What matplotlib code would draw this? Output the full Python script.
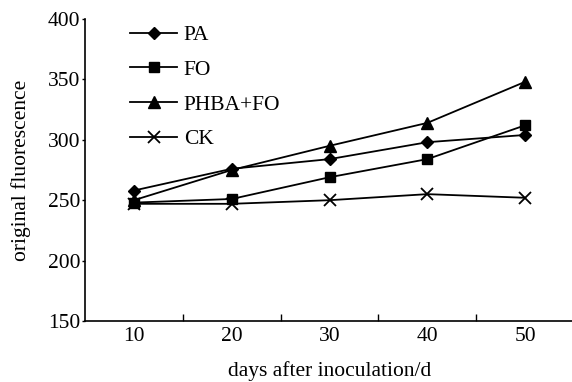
import numpy as np
import matplotlib.pyplot as plt

plt.rcParams['font.family'] = ['Liberation Serif', 'DejaVu Serif']

days = [10, 20, 30, 40, 50]
pa = [258, 276, 284, 298, 304]
fo = [248, 251, 269, 284, 312]
phba_fo = [250, 275, 295, 314, 348]
ck = [247, 247, 250, 255, 252]

fs = 15.5

fig = plt.figure(figsize=(5.72, 3.82), dpi=100)
ax = fig.add_axes([0.1486, 0.1597, 0.855, 0.7906])

lw = 1.3
ax.plot(days, pa, 'k-', marker='D', markersize=6.5, lw=lw, label='PA', clip_on=False)
ax.plot(days, fo, 'k-', marker='s', markersize=7, lw=lw, label='FO', clip_on=False)
ax.plot(days, phba_fo, 'k-', marker='^', markersize=8.5, lw=lw, label='PHBA+FO', clip_on=False)
ax.plot(days, ck, 'k-', marker='x', markersize=8, markeredgewidth=1.3, lw=lw, label='CK', clip_on=False)

ax.set_xlim(5, 55)
ax.set_ylim(150, 400)
ax.set_yticks([150, 200, 250, 300, 350, 400])
ax.set_xticks(days)
ax.set_xticks([15, 25, 35, 45], minor=True)
ax.tick_params(axis='x', which='major', length=0, labelsize=fs, pad=4)
ax.tick_params(axis='x', which='minor', direction='in', length=5, width=1)
ax.tick_params(axis='y', direction='out', length=2.5, width=1, labelsize=fs, pad=1)

for s in ['top', 'right']:
    ax.spines[s].set_visible(False)
for s in ['left', 'bottom']:
    ax.spines[s].set_linewidth(1.2)

ax.set_ylabel('original fluorescence', fontsize=fs)
ax.yaxis.set_label_coords(-0.11, 0.5)
ax.set_xlabel('days after inoculation/d', fontsize=fs, labelpad=11)

ax.legend(loc='upper left', bbox_to_anchor=(0.092, 0.98), frameon=False,
          fontsize=fs, handlelength=2.2, handletextpad=0.3, labelspacing=0.68,
          borderpad=0, borderaxespad=0)

fig.savefig('out.png', dpi=100)
